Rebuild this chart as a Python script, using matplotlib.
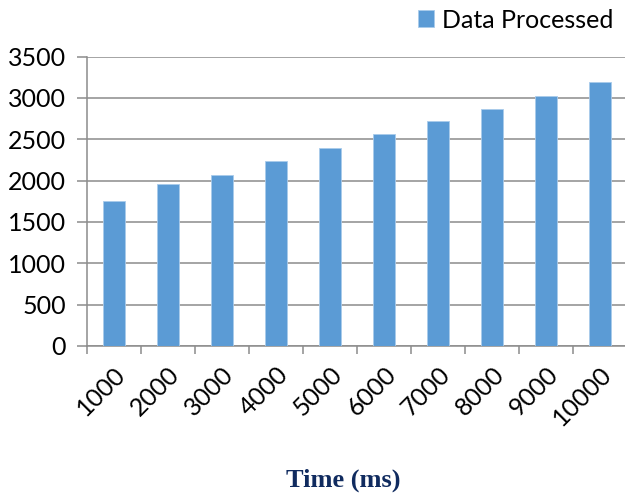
import numpy as np
import matplotlib
matplotlib.use("Agg")
import matplotlib.pyplot as plt

# data
time_ms = ["1000", "2000", "3000", "4000", "5000", "6000", "7000", "8000", "9000", "10000"]
data_processed = [1750, 1960, 2070, 2240, 2400, 2560, 2720, 2870, 3030, 3190]
y_ticks = [0, 500, 1000, 1500, 2000, 2500, 3000, 3500]

# style
bar_color = "#5B9BD5"
grid_color = "#8C8C8C"
plt.rcParams["font.family"] = ["Lato", "DejaVu Sans"]

fig = plt.figure(figsize=(6.25, 4.97), dpi=100)
ax = fig.add_axes([0.139, 0.304, 0.864, 0.582])

x = np.arange(len(time_ms))
ax.bar(x, data_processed, width=0.41, color=bar_color, edgecolor="#A9CBEB",
       linewidth=0.6, label="Data Processed", zorder=3)

# axes limits and grid
ax.set_xlim(-0.5, len(time_ms) - 0.5)
ax.set_ylim(0, 3500)
ax.set_yticks(y_ticks)
ax.yaxis.grid(True, color=grid_color, linewidth=1.1, zorder=0)
ax.set_axisbelow(True)

for side in ["top", "right"]:
    ax.spines[side].set_visible(False)
ax.spines["left"].set_color(grid_color)
ax.spines["bottom"].set_color(grid_color)
ax.spines["left"].set_linewidth(1.1)
ax.spines["bottom"].set_linewidth(1.1)

# category ticks sit between the bars
ax.set_xticks(np.arange(len(time_ms) + 1) - 0.5, minor=False)
ax.set_xticklabels([])
ax.set_xticks(x, minor=True)
ax.set_xticklabels(time_ms, minor=True, rotation=45, ha="right", va="top",
                   rotation_mode="anchor", fontsize=18)
ax.tick_params(axis="x", which="major", length=6, width=1.1, color=grid_color)
ax.tick_params(axis="x", which="minor", length=0, pad=12)
ax.tick_params(axis="y", length=7, width=1.1, color=grid_color, labelsize=18, pad=8)

# legend and axis title
fig.legend(loc="upper right", bbox_to_anchor=(1.017, 1.028), frameon=False, fontsize=18,
           handlelength=0.65, handleheight=0.65, handletextpad=0.3)
fig.text(0.549, 0.033, "Time (ms)", ha="center", va="center", fontsize=19,
         fontweight="bold", family="Liberation Serif", color="#102B5F")

plt.savefig("out.png", dpi=100)
